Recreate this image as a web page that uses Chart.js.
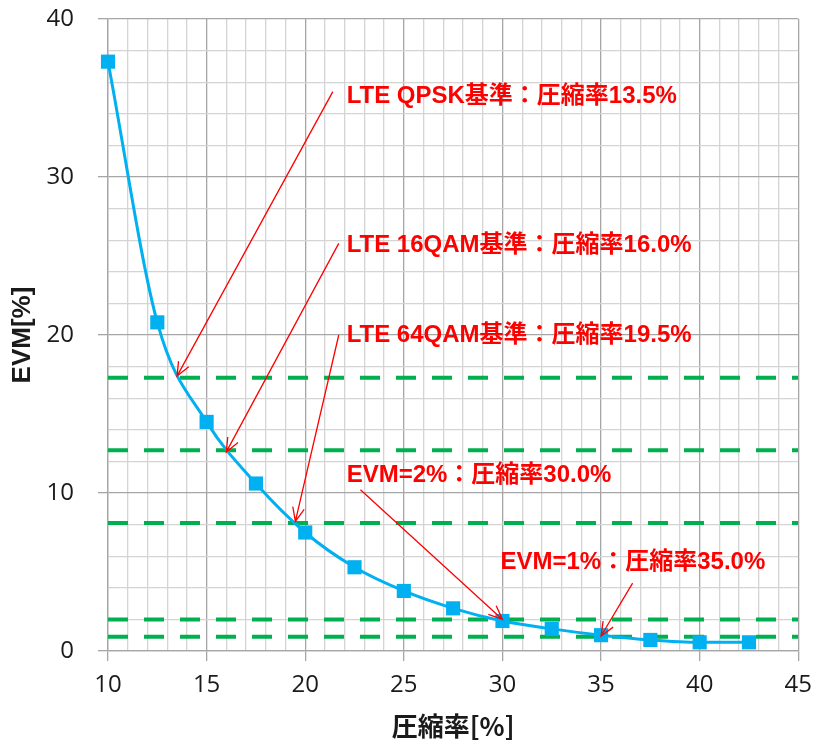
<!DOCTYPE html>
<html>
<head>
<meta charset="utf-8">
<script src="https://cdn.jsdelivr.net/npm/chart.js@4.4.1/dist/chart.umd.min.js"></script>
<style>
  html, body { margin: 0; padding: 0; background: #fff; }
  #wrap { width: 822px; height: 744px; }
</style>
</head>
<body>
<div id="wrap"><canvas id="grafico"></canvas></div>
<script>
// datos
const compresion = [10, 12.5, 15, 17.5, 20, 22.5, 25, 27.5, 30, 32.5, 35, 37.5, 40, 42.5];
const evm = [37.3, 20.8, 14.5, 10.6, 7.5, 5.3, 3.8, 2.7, 1.9, 1.4, 1.0, 0.7, 0.55, 0.55];
const umbrales = [17.3, 12.7, 8.1, 2.0, 0.9];
const xTicks = [10, 15, 20, 25, 30, 35, 40, 45];
const yTicks = [0, 10, 20, 30, 40];

// anotaciones (en unidades de datos)
const notaTextos = ['LTE QPSK基準：圧縮率13.5%', 'LTE 16QAM基準：圧縮率16.0%', 'LTE 64QAM基準：圧縮率19.5%', 'EVM=2%：圧縮率30.0%', 'EVM=1%：圧縮率35.0%'];
const notaX = [22.1, 22.1, 22.1, 22.1, 29.9];
const notaY = [35.1, 25.7, 20.0, 11.1, 5.6];
const flechaDesdeX = [21.4, 21.7, 21.7, 22.8, 36.6];
const flechaDesdeY = [35.4, 25.8, 20.0, 10.2, 4.3];
const flechaHastaX = [13.5, 16.0, 19.5, 30.0, 35.0];
const flechaHastaY = [17.4, 12.6, 8.2, 2.0, 0.95];

const datasets = [{
  label: 'EVM',
  data: compresion.map((x, i) => ({ x: x, y: evm[i] })),
  borderColor: '#00B0F0',
  backgroundColor: '#00B0F0',
  borderWidth: 3,
  pointStyle: 'rect',
  pointRadius: 10,
  pointBorderWidth: 0,
  cubicInterpolationMode: 'monotone',
  showLine: true,
  clip: false
}];
umbrales.forEach((u) => {
  datasets.push({
    label: 'umbral ' + u,
    data: [{ x: 10, y: u }, { x: 45, y: u }],
    borderColor: '#00B050',
    borderWidth: 4,
    borderDash: [20, 16],
    pointRadius: 0,
    showLine: true
  });
});

function dibujarFlecha(ctx, x1, y1, x2, y2) {
  const ang = Math.atan2(y2 - y1, x2 - x1);
  const largo = 15;
  ctx.beginPath();
  ctx.moveTo(x1, y1);
  ctx.lineTo(x2, y2);
  ctx.moveTo(x2 - largo * Math.cos(ang - 0.4), y2 - largo * Math.sin(ang - 0.4));
  ctx.lineTo(x2, y2);
  ctx.lineTo(x2 - largo * Math.cos(ang + 0.4), y2 - largo * Math.sin(ang + 0.4));
  ctx.stroke();
}

const notasPlugin = {
  id: 'notas',
  afterDatasetsDraw(chart) {
    const ctx = chart.ctx;
    const sx = chart.scales.x;
    const sy = chart.scales.y;
    ctx.save();
    ctx.strokeStyle = '#FF0000';
    ctx.lineWidth = 1.3;
    notaTextos.forEach((t, i) => {
      dibujarFlecha(ctx,
        sx.getPixelForValue(flechaDesdeX[i]), sy.getPixelForValue(flechaDesdeY[i]),
        sx.getPixelForValue(flechaHastaX[i]), sy.getPixelForValue(flechaHastaY[i]));
    });
    ctx.fillStyle = '#FF0000';
    ctx.font = "bold 24px 'Liberation Sans', 'Noto Sans CJK JP', sans-serif";
    ctx.textAlign = 'left';
    ctx.textBaseline = 'middle';
    notaTextos.forEach((t, i) => {
      ctx.fillText(t, sx.getPixelForValue(notaX[i]), sy.getPixelForValue(notaY[i]));
    });
    ctx.restore();
  }
};

const fuenteTicks = { family: "'Open Sans', 'Liberation Sans', sans-serif", size: 24 };

new Chart(document.getElementById('grafico').getContext('2d'), {
  type: 'scatter',
  data: { datasets: datasets },
  options: {
    responsive: true,
    maintainAspectRatio: false,
    animation: false,
    layout: { padding: { top: 1, right: 22, left: 0, bottom: 0 } },
    plugins: {
      legend: { display: false },
      tooltip: { enabled: false }
    },
    scales: {
      x: {
        type: 'linear',
        min: 10,
        max: 45,
        afterFit: (scale) => { scale.height = 93; },
        ticks: {
          stepSize: 1,
          autoSkip: false,
          maxRotation: 0,
          padding: 10,
          color: '#1a1a1a',
          font: fuenteTicks,
          callback: (v) => (xTicks.includes(v) ? String(v) : '')
        },
        grid: {
          color: (c) => (xTicks.includes(c.tick.value) ? '#A6A6A6' : '#D4D4D4'),
          lineWidth: 1.3,
          tickLength: 10,
          tickColor: (c) => (xTicks.includes(c.tick.value) ? '#A6A6A6' : 'rgba(0,0,0,0)')
        },
        border: { color: '#A6A6A6', width: 1.3 },
        title: {
          display: true,
          text: '圧縮率[%]',
          color: '#1a1a1a',
          font: { family: "'Noto Sans CJK JP', sans-serif", size: 26, weight: 'bold' },
          padding: { top: 0, bottom: 2 }
        }
      },
      y: {
        type: 'linear',
        min: 0,
        max: 40,
        afterFit: (scale) => {
          scale.width = 108;
          scale.paddingTop = 19;
          scale.paddingBottom = 0;
        },
        ticks: {
          stepSize: 2,
          autoSkip: false,
          padding: 24,
          color: '#1a1a1a',
          font: fuenteTicks,
          callback: (v) => (yTicks.includes(v) ? String(v) : '')
        },
        grid: {
          color: (c) => (yTicks.includes(c.tick.value) ? '#A6A6A6' : '#D4D4D4'),
          lineWidth: 1.3,
          tickLength: 10,
          tickColor: (c) => (yTicks.includes(c.tick.value) ? '#A6A6A6' : 'rgba(0,0,0,0)')
        },
        border: { color: '#A6A6A6', width: 1.3 },
        title: {
          display: true,
          text: 'EVM[%]',
          color: '#1a1a1a',
          font: { family: "'Liberation Sans', sans-serif", size: 26, weight: 'bold' },
          padding: { top: 7, bottom: 0 }
        }
      }
    }
  },
  plugins: [notasPlugin]
});
</script>
</body>
</html>
